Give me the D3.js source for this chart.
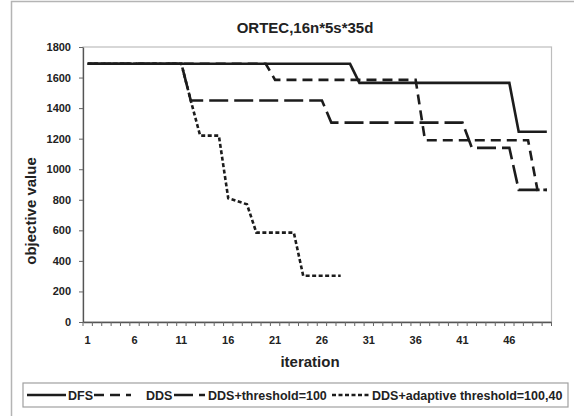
<!DOCTYPE html>
<html>
<head>
<meta charset="utf-8">
<script src="https://cdn.jsdelivr.net/npm/d3@7/dist/d3.min.js"></script>
<style>
  body { margin: 0; background: #fff; }
  svg text { font-family: "Liberation Sans", Arial, sans-serif; fill: #222; }
</style>
</head>
<body>
<svg id="chart"></svg>
<script>
// categories and ticks
var iterations = d3.range(1, 51);
var xTickLabels = [1, 6, 11, 16, 21, 26, 31, 36, 41, 46];
var yTickValues = [0, 200, 400, 600, 800, 1000, 1200, 1400, 1600, 1800];
var seriesNames = ["DFS", "DDS", "DDS+threshold=100", "DDS+adaptive threshold=100,40"];

// objective value per iteration
var dfsValues = [1690,1690,1690,1690,1690,1690,1690,1690,1690,1690,
                 1690,1690,1690,1690,1690,1690,1690,1690,1690,1690,
                 1690,1690,1690,1690,1690,1690,1690,1690,1690,1565,
                 1565,1565,1565,1565,1565,1565,1565,1565,1565,1565,
                 1565,1565,1565,1565,1565,1565,1245,1245,1245,1245];
var ddsValues = [1690,1690,1690,1690,1690,1690,1690,1690,1690,1690,
                 1690,1690,1690,1690,1690,1690,1690,1690,1690,1690,
                 1585,1585,1585,1585,1585,1585,1585,1585,1585,1585,
                 1585,1585,1585,1585,1585,1585,1190,1190,1190,1190,
                 1190,1190,1190,1190,1190,1190,1190,1190,865,865];
var thresholdValues = [1690,1690,1690,1690,1690,1690,1690,1690,1690,1690,
                       1690,1450,1450,1450,1450,1450,1450,1450,1450,1450,
                       1450,1450,1450,1450,1450,1450,1305,1305,1305,1305,
                       1305,1305,1305,1305,1305,1305,1305,1305,1305,1305,
                       1305,1140,1140,1140,1140,1140,865,865,865,865];
var adaptiveValues = [1690,1690,1690,1690,1690,1690,1690,1690,1690,1690,
                      1690,1450,1220,1220,1220,810,790,770,585,585,
                      585,585,585,303,303,303,303,303,null,null,
                      null,null,null,null,null,null,null,null,null,null,
                      null,null,null,null,null,null,null,null,null,null];

var allSeries = [dfsValues, ddsValues, thresholdValues, adaptiveValues];

//Graph settings
var screen = {width: 574, height: 416};
var plot = {left: 83, right: 551.5, top: 47, bottom: 322};
var dashes = ["none", "10,6", "19,6", "4,2.5"];
var legendSpots = [
  {x1: 27, x2: 66, tx: 68},
  {x1: 94, x2: 131, tx: 146},
  {x1: 174, x2: 205, tx: 208},
  {x1: 332, x2: 370, tx: 372}
];

var svg = d3.select("#chart")
            .attr("width", screen.width)
            .attr("height", screen.height);

// outer chart frame (cut off on right and bottom)
svg.append("path")
   .attr("d", "M11.5," + screen.height + "V1.5H" + screen.width)
   .attr("fill", "none")
   .attr("stroke", "#b4b4b4")
   .attr("stroke-width", 1.5);

var xScale = d3.scaleBand()
               .domain(iterations)
               .range([plot.left, plot.right]);

var yScale = d3.scaleLinear()
               .domain([0, 1800])
               .range([plot.bottom, plot.top]);

// plot area border
svg.append("rect")
   .attr("x", plot.left)
   .attr("y", plot.top)
   .attr("width", plot.right - plot.left)
   .attr("height", plot.bottom - plot.top)
   .attr("fill", "#fff")
   .attr("stroke", "#bdbdbd")
   .attr("stroke-width", 1.2);

// y axis
var yAxis = d3.axisLeft(yScale)
              .tickValues(yTickValues)
              .tickFormat(d3.format("d"))
              .tickSize(4)
              .tickSizeOuter(0)
              .tickPadding(8);

var yAxisG = svg.append("g")
                .attr("transform", "translate(" + plot.left + ",0)")
                .call(yAxis);
yAxisG.select(".domain").attr("stroke", "#555").attr("stroke-width", 1.3);
yAxisG.selectAll(".tick line").attr("stroke", "#666");
yAxisG.selectAll(".tick text")
      .attr("font-size", 11)
      .attr("font-weight", "bold")
      .attr("fill", "#333");

// x axis: labels at category centres, ticks between categories
var xAxis = d3.axisBottom(xScale)
              .tickValues(xTickLabels)
              .tickSize(0)
              .tickSizeOuter(0)
              .tickPadding(14);

var xAxisG = svg.append("g")
                .attr("transform", "translate(0," + plot.bottom + ")")
                .call(xAxis);
xAxisG.select(".domain").attr("stroke", "#555").attr("stroke-width", 1.3);
xAxisG.selectAll(".tick text")
      .attr("font-size", 11)
      .attr("font-weight", "bold")
      .attr("fill", "#333");

xAxisG.selectAll(".cat-tick")
      .data(iterations.concat(["end"]))
      .enter()
      .append("line")
      .attr("class", "cat-tick")
      .attr("x1", function(d){ return d === "end" ? plot.right : xScale(d); })
      .attr("x2", function(d){ return d === "end" ? plot.right : xScale(d); })
      .attr("y1", 0)
      .attr("y2", 4)
      .attr("stroke", "#666");

// titles
svg.append("text")
   .text("ORTEC,16n*5s*35d")
   .attr("x", 305)
   .attr("y", 33)
   .attr("text-anchor", "middle")
   .attr("font-size", 15)
   .attr("font-weight", "bold")
   .attr("fill", "#333");

svg.append("text")
   .text("iteration")
   .attr("x", 310)
   .attr("y", 367)
   .attr("text-anchor", "middle")
   .attr("font-size", 15)
   .attr("font-weight", "bold");

svg.append("text")
   .text("objective value")
   .attr("transform", "translate(36,211) rotate(-90)")
   .attr("text-anchor", "middle")
   .attr("font-size", 15)
   .attr("font-weight", "bold");

// series lines
var lineMaker = d3.line()
                  .defined(function(d){ return d.v !== null; })
                  .x(function(d){ return xScale(d.it) + xScale.bandwidth() / 2; })
                  .y(function(d){ return yScale(d.v); });

var seriesData = allSeries.map(function(values, s){
  return {
    idx: s,
    points: iterations.map(function(it, i){ return {it: it, v: values[i]}; })
  };
});

svg.append("g")
   .selectAll("path")
   .data(seriesData.slice().reverse())
   .enter()
   .append("path")
   .attr("d", function(d){ return lineMaker(d.points); })
   .attr("fill", "none")
   .attr("stroke", "#1c1c1c")
   .attr("stroke-width", 2.6)
   .attr("stroke-dasharray", function(d){ return dashes[d.idx]; });

// legend
var legend = svg.append("g");
legend.append("rect")
      .attr("x", 23)
      .attr("y", 383)
      .attr("width", 545)
      .attr("height", 24)
      .attr("fill", "#fff")
      .attr("stroke", "#a0a0a0")
      .attr("stroke-width", 1.2);

var legendItems = legend.selectAll(".legend-item")
                        .data(seriesNames)
                        .enter()
                        .append("g")
                        .attr("class", "legend-item");

legendItems.append("line")
           .attr("x1", function(d, i){ return legendSpots[i].x1; })
           .attr("x2", function(d, i){ return legendSpots[i].x2; })
           .attr("y1", 395)
           .attr("y2", 395)
           .attr("stroke", "#1c1c1c")
           .attr("stroke-width", 2.6)
           .attr("stroke-dasharray", function(d, i){ return dashes[i]; });

legendItems.append("text")
           .text(function(d){ return d; })
           .attr("x", function(d, i){ return legendSpots[i].tx; })
           .attr("y", 399.5)
           .attr("font-size", 12.5)
           .attr("font-weight", "bold");
</script>
</body>
</html>
